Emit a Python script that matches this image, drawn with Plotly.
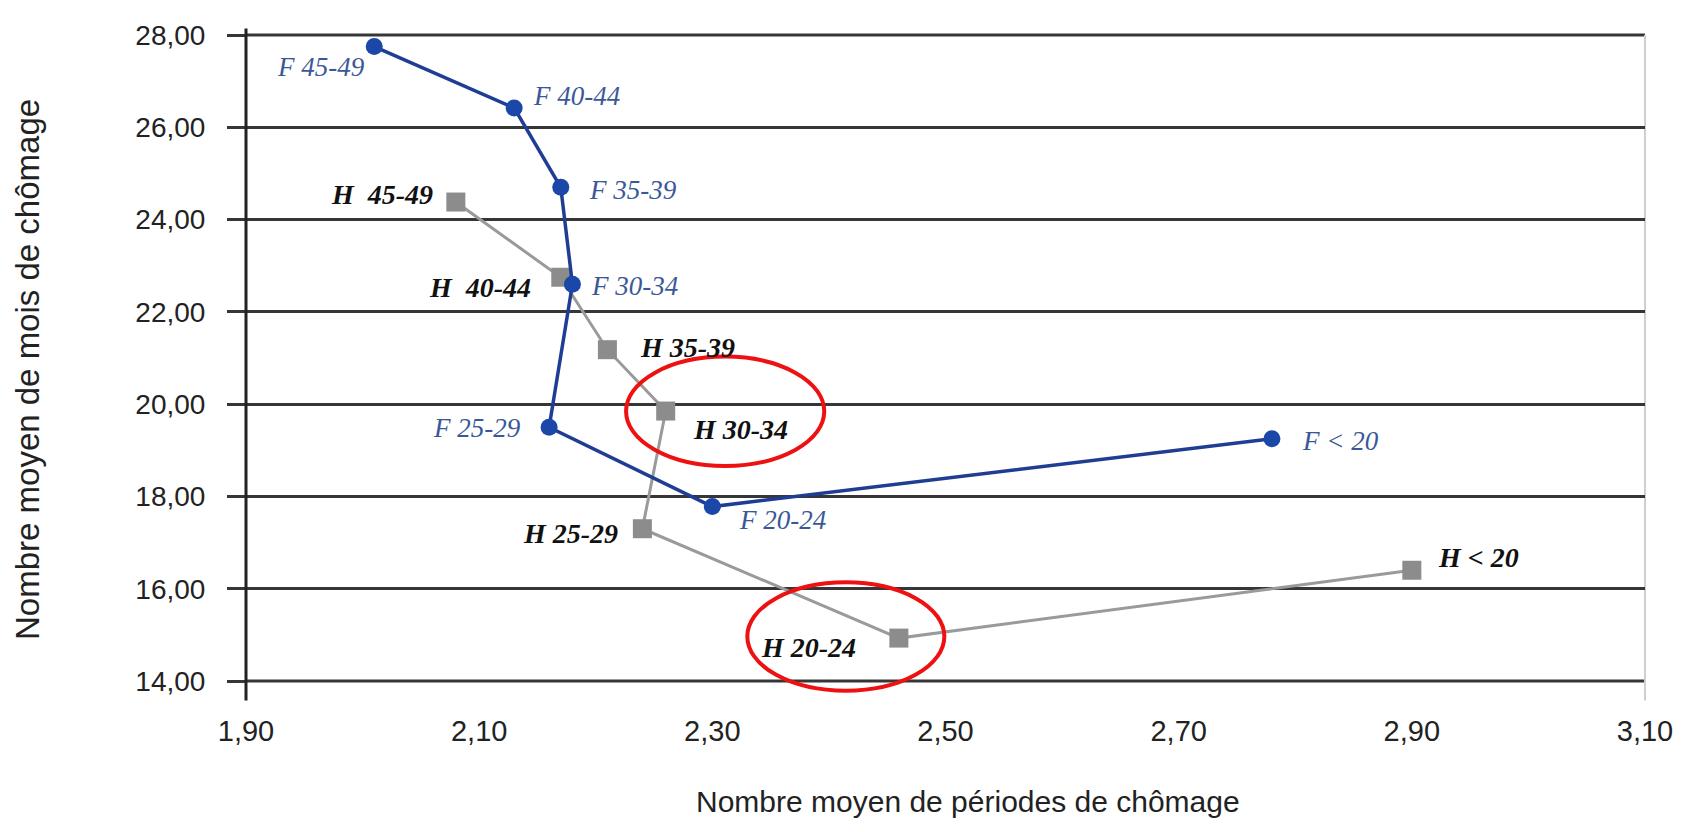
import plotly.graph_objects as go

# ---- data ----
f_labels = ["F 45-49", "F 40-44", "F 35-39", "F 30-34", "F 25-29", "F 20-24", "F < 20"]
f_x = [2.01, 2.13, 2.17, 2.18, 2.16, 2.30, 2.78]
f_y = [27.75, 26.42, 24.70, 22.60, 19.50, 17.78, 19.25]

h_labels = ["H  45-49", "H  40-44", "H 35-39", "H 30-34", "H 25-29", "H 20-24", "H < 20"]
h_x = [2.08, 2.17, 2.21, 2.26, 2.24, 2.46, 2.90]
h_y = [24.38, 22.75, 21.18, 19.85, 17.30, 14.93, 16.40]

x_ticks = [1.90, 2.10, 2.30, 2.50, 2.70, 2.90, 3.10]
x_ticktext = ["1,90", "2,10", "2,30", "2,50", "2,70", "2,90", "3,10"]
y_ticks = [14, 16, 18, 20, 22, 24, 26, 28]
y_ticktext = ["14,00", "16,00", "18,00", "20,00", "22,00", "24,00", "26,00", "28,00"]

x_title = "Nombre moyen de périodes de chômage"
y_title = "Nombre moyen de mois de chômage"

X_RANGE = [1.90, 3.10]
Y_RANGE = [14, 28]

# highlighted regions (red ellipses), in data units: x0, x1, y0, y1
highlights = [
    (2.226, 2.396, 18.66, 21.03),
    (2.330, 2.499, 13.79, 16.14),
]

# ---- label placement (pixel offsets: anchor, dx, dy) ----
f_label_pos = [("right", -7, -20), ("left", 17, 12), ("left", 26, -3), ("left", 17, -2),
               ("right", -26, -1), ("left", 25, -13), ("left", 28, -2)]
h_label_pos = [("right", -21, 8), ("right", -28, -10), ("left", 31, 2), ("left", 25, -18),
               ("right", -22, -5), ("right", -41, -9), ("left", 24, 13)]

BLUE_LINE = "#1f3d93"
BLUE_MARK = "#1b48a8"
BLUE_TEXT = "#3a5897"
GRAY_LINE = "#9a9a9a"
GRAY_MARK = "#8c8c8c"
GRID = "#363636"
TXT = "#222222"

fig = go.Figure()
fig.add_trace(go.Scatter(
    x=h_x, y=h_y, mode="lines+markers",
    line=dict(color=GRAY_LINE, width=3),
    marker=dict(symbol="square", size=19, color=GRAY_MARK),
    hoverinfo="x+y+text", text=h_labels, showlegend=False))
fig.add_trace(go.Scatter(
    x=f_x, y=f_y, mode="lines+markers",
    line=dict(color=BLUE_LINE, width=3.5),
    marker=dict(symbol="circle", size=17, color=BLUE_MARK),
    hoverinfo="x+y+text", text=f_labels, showlegend=False))

annotations = []
for lab, x, y, (anc, dx, dy) in zip(f_labels, f_x, f_y, f_label_pos):
    annotations.append(dict(x=x, y=y, xref="x", yref="y", text=lab, showarrow=False,
                            xanchor=anc, yanchor="middle", xshift=dx, yshift=dy,
                            font=dict(family="Liberation Serif", size=27, color=BLUE_TEXT,
                                      style="italic")))
for lab, x, y, (anc, dx, dy) in zip(h_labels, h_x, h_y, h_label_pos):
    annotations.append(dict(x=x, y=y, xref="x", yref="y", text="<b>" + lab + "</b>", showarrow=False,
                            xanchor=anc, yanchor="middle", xshift=dx, yshift=dy,
                            font=dict(family="Liberation Serif", size=28, color="#111111",
                                      style="italic")))

# axis titles
annotations.append(dict(text=x_title, xref="paper", yref="paper", x=0.5, y=0,
                        xanchor="center", yanchor="middle", xshift=22, yshift=-120,
                        showarrow=False,
                        font=dict(family="Liberation Sans", size=30, color=TXT)))
annotations.append(dict(text=y_title, xref="paper", yref="paper", x=0, y=0.5,
                        xanchor="center", yanchor="middle", xshift=-219, yshift=-12,
                        textangle=-90, showarrow=False,
                        font=dict(family="Liberation Sans", size=33, color=TXT)))


def px_(v):
    return (v - X_RANGE[0]) / (X_RANGE[1] - X_RANGE[0])


def py_(v):
    return (v - Y_RANGE[0]) / (Y_RANGE[1] - Y_RANGE[0])


shapes = []
for (x0, x1, y0, y1) in highlights:
    shapes.append(dict(type="circle", xref="paper", yref="paper",
                       x0=px_(x0), x1=px_(x1), y0=py_(y0), y1=py_(y1),
                       line=dict(color="#ee1111", width=4), layer="above"))
# top and bottom gridlines (range edges)
for yy in (0, 1):
    shapes.append(dict(type="line", xref="paper", yref="paper", x0=0, x1=1, y0=yy, y1=yy,
                       line=dict(color=GRID, width=3), layer="below"))
# right border and y-axis line extended below the plot
shapes.append(dict(type="line", xref="paper", yref="paper", x0=1, x1=1, y0=-0.03, y1=1.0,
                   line=dict(color="#cfcfcf", width=2), layer="below"))
shapes.append(dict(type="line", xref="paper", yref="paper", x0=0, x1=0, y0=-0.03, y1=1.01,
                   line=dict(color="#222222", width=3), layer="above"))

# page body has an 8px margin: size the figure so the plot area lands where the reference has it
fig.update_layout(
    width=1677, height=816,
    margin=dict(l=238, r=32, t=24, b=143),
    paper_bgcolor="white", plot_bgcolor="white",
    annotations=annotations, shapes=shapes,
    font=dict(family="Liberation Sans", color="#111111"),
)
fig.update_xaxes(
    range=X_RANGE, tickvals=x_ticks, ticktext=x_ticktext,
    showgrid=False, zeroline=False, showline=False, ticks="",
    tickfont=dict(size=29, family="Liberation Sans", color=TXT),
    ticklabelstandoff=30,
)
fig.update_yaxes(
    range=Y_RANGE, tickvals=y_ticks, ticktext=y_ticktext,
    showgrid=True, gridcolor=GRID, gridwidth=3, zeroline=False,
    showline=False, ticks="outside", ticklen=18, tickwidth=3, tickcolor=GRID,
    tickfont=dict(size=28, family="Liberation Sans", color=TXT),
    ticklabelstandoff=16,
)

fig.write_html("out.html")
